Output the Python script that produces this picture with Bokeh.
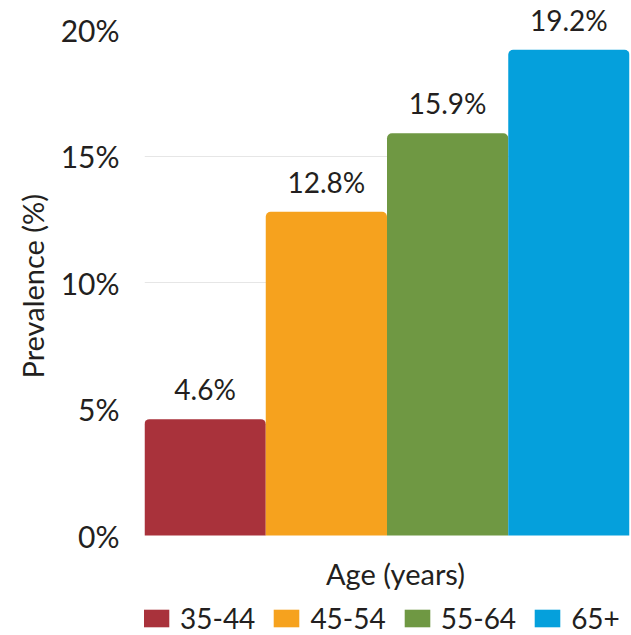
from bokeh.plotting import figure
from bokeh.models import (ColumnDataSource, FactorRange, Range1d, FixedTicker,
                          PrintfTickFormatter, Legend, LegendItem, Label, Title)
from bokeh.core.properties import value, field
from bokeh.embed import file_html
from bokeh.resources import INLINE

# Prevalence by age group
ages = ["35-44", "45-54", "55-64", "65+"]
prevalence = [4.6, 12.8, 15.9, 19.2]
colors = ["#a9323b", "#f6a21e", "#6f9843", "#05a0dc"]
y_ticks = [0, 5, 10, 15, 20]

FONT = "Lato"
INK = "#231f20"

PX_PER_PCT = 25.3          # vertical scale of the bars
PLOT_TOP = 21.15           # headroom above the 20% tick
BOTTOM_PX = 100            # room under the baseline for axis title and legend

source = ColumnDataSource(data=dict(
    age=ages,
    val=prevalence,
    color=colors,
    lab=[f"{v:.1f}%" for v in prevalence],
))

p = figure(
    frame_width=485, frame_height=635,
    x_range=FactorRange(factors=ages, range_padding=0),
    y_range=Range1d(-BOTTOM_PX / PX_PER_PCT, PLOT_TOP),
    min_border_left=144, min_border_right=2, min_border_top=0, min_border_bottom=0,
    output_backend="svg", toolbar_location=None,
)
p.outline_line_color = None
p.background_fill_color = "white"
p.xaxis.visible = False

bars = p.vbar(x="age", top="val", bottom=0, width=1.0, source=source,
              fill_color="color", line_color=None,
              border_radius=(5, 5, 0, 0))

p.text(x="age", y="val", text="lab", source=source,
       text_align="center", text_baseline="bottom", y_offset=-13,
       text_font=value(FONT), text_font_size="28px", text_color=INK)

# y axis
p.yaxis.ticker = FixedTicker(ticks=y_ticks)
p.yaxis.formatter = PrintfTickFormatter(format="%d%%")
p.yaxis.axis_line_color = None
p.yaxis.major_tick_line_color = None
p.yaxis.minor_tick_line_color = None
p.yaxis.major_tick_out = 0
p.yaxis.major_label_standoff = 25
p.yaxis.major_label_text_font = FONT
p.yaxis.major_label_text_font_size = "30px"
p.yaxis.major_label_text_color = INK
p.yaxis.axis_label = None

p.add_layout(Title(text="Prevalence (%)", align="left", offset=257,
                   text_font=FONT, text_font_size="29px",
                   text_font_style="normal", text_color=INK,
                   standoff=15), "left")

# x axis title under the bars
p.add_layout(Label(x=2.07, y=-38 / PX_PER_PCT, text="Age (years)",
                   text_align="center", text_baseline="middle",
                   text_font=FONT, text_font_size="29px", text_color=INK))

# grid
p.xgrid.grid_line_color = None
p.ygrid.ticker = FixedTicker(ticks=[10, 15])
p.ygrid.grid_line_color = "#e6e6e6"
p.ygrid.grid_line_width = 1

legend = Legend(
    items=[LegendItem(label=field("age"), renderers=[bars])],
    orientation="horizontal", location=(-4, 0),
    glyph_width=32, glyph_height=22, label_standoff=8, spacing=15,
    label_text_font=FONT, label_text_font_size="28px", label_text_color=INK,
    label_text_line_height=1.0, label_height=22,
    border_line_color=None, background_fill_alpha=0,
    padding=0, margin=0,
)
p.add_layout(legend, "center")

open("out.html", "w").write(file_html(p, INLINE))
